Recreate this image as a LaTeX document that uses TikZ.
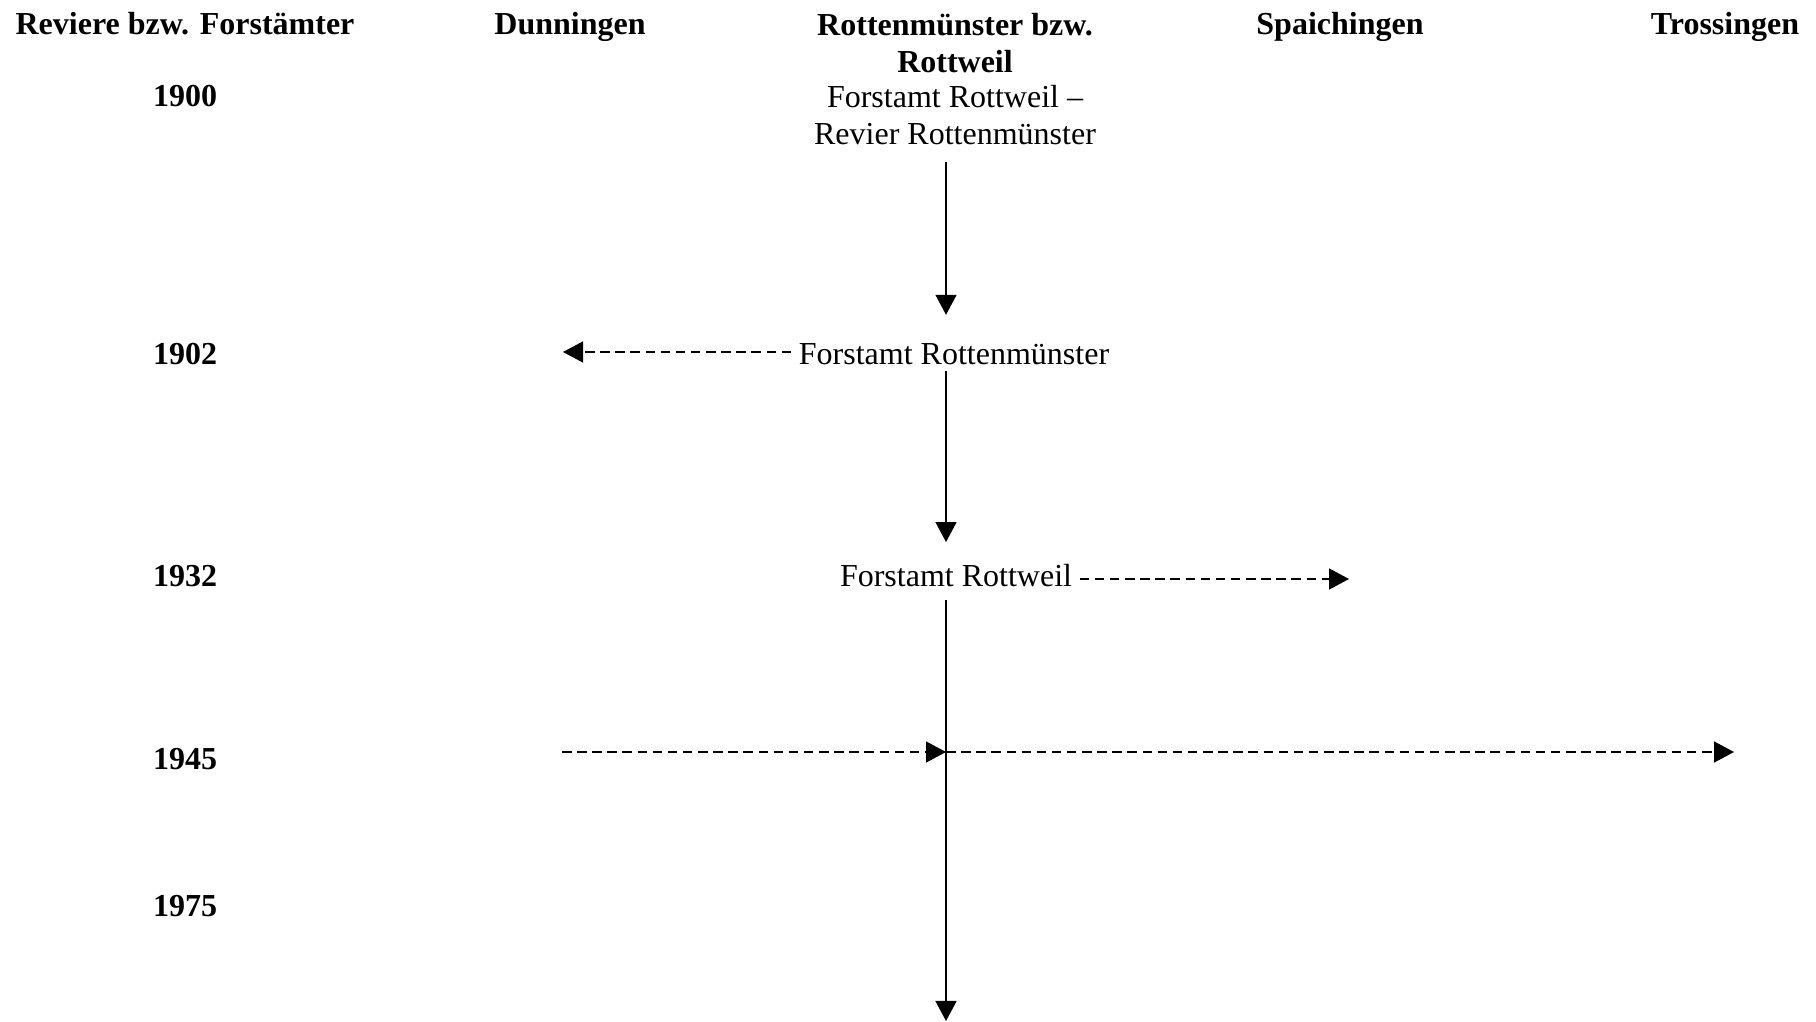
\documentclass[tikz,border=0pt]{standalone}
\usepackage{fontspec}
\setmainfont{Liberation Serif}
\usetikzlibrary{shapes,arrows,arrows.meta}

\begin{document}
\begin{tikzpicture}[x=0.01cm, y=-0.01cm]
				\tikzstyle{head} = [inner sep=0pt, align=center, font=\fontsize{9.1}{10.5}\selectfont\bfseries]
				\tikzstyle{year} = [inner sep=0pt, anchor=base, font=\fontsize{9.1}{10.5}\selectfont\bfseries]
				\tikzstyle{office} = [inner sep=0pt, align=center, font=\fontsize{9.1}{10.5}\selectfont]
				\tikzstyle{line} = [draw, -{Triangle[width=0.21cm, length=0.2cm]}]
				\tikzstyle{dashline} = [line, dash pattern=on 2.7pt off 1.6pt]
				
				\useasboundingbox (0,0) rectangle (1816,1022);
				
				\node [head, anchor=base] (reviere) at (185,35) {Reviere bzw. Forstämter};
				\node [head, anchor=base] (dunningen) at (570,35) {Dunningen};
				\node [head, anchor=north] (rottweil) at (955,13) {Rottenmünster bzw.\\Rottweil};
				\node [head, anchor=base] (spaichingen) at (1340,35) {Spaichingen};
				\node [head, anchor=base] (trossingen) at (1725,35) {Trossingen};
				
				\node [year] (y1900) at (185,107) {1900};
				\node [year] (y1902) at (185,365) {1902};
				\node [year] (y1932) at (185,586) {1932};
				\node [year] (y1945) at (185,769) {1945};
				\node [year] (y1975) at (185,916) {1975};
				
				\node [office, anchor=north] (rw1900) at (955,85) {Forstamt Rottweil --\\Revier Rottenmünster};
				\node [office, anchor=base] (rm1902) at (954,365) {Forstamt Rottenmünster};
				\node [office, anchor=base] (rw1932) at (956,586) {Forstamt Rottweil};
				
				\coordinate (spine) at (946,0);
				\coordinate (dun1902) at (563,352);
				\coordinate (spa1932) at (1349,579);
				\coordinate (dun1945) at (562,752);
				\coordinate (cross1945) at (946,752);
				\coordinate (tro1945) at (1734,752);
				\coordinate (bottom) at (946,1021);
				
				\path [line, shorten <=0.16cm, shorten >=0.285cm] (rw1900.south -| spine) -- (rm1902.north -| spine);
				\path [line, shorten <=0.05cm, shorten >=0.21cm] (rm1902.south -| spine) -- (rw1932.north -| spine);
				\path [line, shorten <=0.13cm] (rw1932.south -| spine) -- (bottom);
				\path [dashline, shorten <=0.07cm] (rm1902.west |- dun1902) -- (dun1902);
				\path [dashline, shorten <=0.07cm] (rw1932.east |- spa1932) -- (spa1932);
				\path [dashline] (dun1945) -- (cross1945);
				\path [dashline] (cross1945) -- (tro1945);
				
			\end{tikzpicture}
\end{document}
